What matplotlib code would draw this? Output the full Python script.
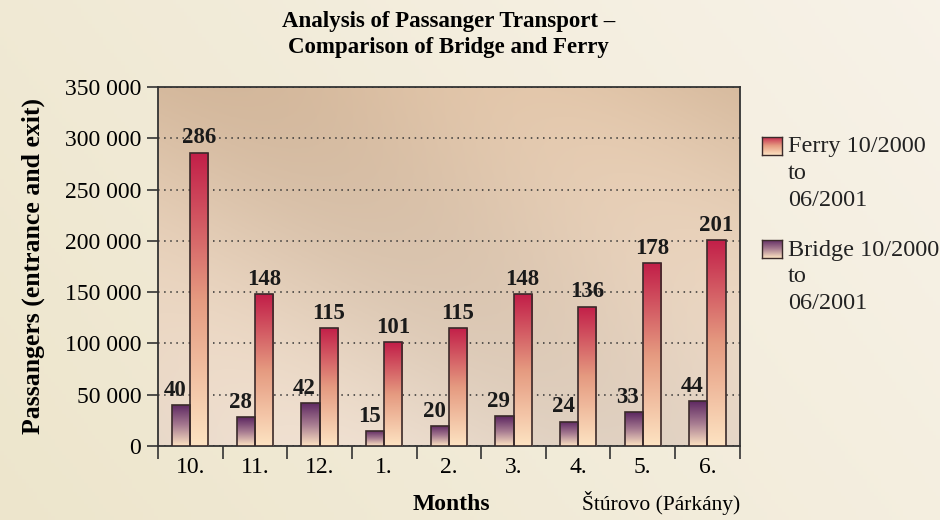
import numpy as np
import matplotlib
matplotlib.use("Agg")
import matplotlib.pyplot as plt
from matplotlib.colors import LinearSegmentedColormap
from matplotlib.patches import Rectangle
from matplotlib.ticker import FuncFormatter, MultipleLocator, FixedLocator

months = ["10.", "11.", "12.", "1.", "2.", "3.", "4.", "5.", "6."]
bridge = [40, 28, 42, 15, 20, 29, 24, 33, 44]          # thousands
ferry = [286, 148, 115, 101, 115, 148, 136, 178, 201]  # thousands
series_names = ["Ferry 10/2000\nto\n06/2001", "Bridge 10/2000\nto\n06/2001"]

plt.rcParams['font.family'] = ['Liberation Serif', 'DejaVu Serif']

fig = plt.figure(figsize=(9.4, 5.2), dpi=100)

# figure background gradient
bg = fig.add_axes([0, 0, 1, 1], zorder=-10)
gx = np.linspace(0, 1, 256)
gy = np.linspace(0, 1, 128)
GX, GY = np.meshgrid(gx, gy)
c1 = np.array([0.93, 0.90, 0.80])
c2 = np.array([0.97, 0.95, 0.91])
t = (0.7 * GX + 0.3 * GY)[..., None]
bg.imshow(c1 * (1 - t) + c2 * t, aspect='auto', extent=[0, 1, 0, 1], origin='lower')
bg.axis('off')

ax = fig.add_axes([0.168, 0.142, 0.619, 0.691])
ax.set_xlim(0, len(months))
ax.set_ylim(0, 350000)

# axes background gradient
top = np.array([0.86, 0.75, 0.64])
bot = np.array([0.91, 0.85, 0.79])
ty = np.linspace(0, 1, 128)[:, None, None]
tx = np.linspace(0, 1, 256)[None, :, None]
img = bot * (1 - ty) + top * ty
img = img + 0.03 * np.sin(tx * 6 + ty * 4)
img = np.clip(img, 0, 1)
ax.imshow(img, aspect='auto', extent=[0, len(months), 0, 350000], origin='lower', zorder=0)

ferry_cmap = LinearSegmentedColormap.from_list('f', ['#fde3c2', '#e59a80', '#c21e48'])
bridge_cmap = LinearSegmentedColormap.from_list('b', ['#fde3c2', '#a67a90', '#5b2560'])

grad = np.linspace(0, 1, 256)[:, None]
w = 0.28

def grad_bar(x0, h, cmap):
    rect = Rectangle((x0, 0), w, h, facecolor='none', edgecolor='#3a2a2a', lw=1.2, zorder=4)
    ax.add_patch(rect)
    im = ax.imshow(grad, cmap=cmap, aspect='auto', extent=[x0, x0 + w, 0, h],
                   origin='lower', zorder=3)
    im.set_clip_path(rect)

for i in range(len(months)):
    c = i + 0.5
    hb = bridge[i] * 1000
    hf = ferry[i] * 1000
    grad_bar(c - w, hb, bridge_cmap)
    grad_bar(c, hf, ferry_cmap)
    ax.text(c - w / 2 - 0.09, hb + 4000, str(bridge[i]), ha='center', va='bottom',
            fontsize=16.5, fontweight='bold', color='#1a1a1a', zorder=6)
    ax.text(c + w / 2, hf + 4000, str(ferry[i]), ha='center', va='bottom',
            fontsize=16.5, fontweight='bold', color='#1a1a1a', zorder=6)

ax.set_xlim(0, len(months))
ax.set_ylim(0, 350000)

ax.yaxis.set_major_locator(MultipleLocator(50000))
ax.yaxis.set_major_formatter(FuncFormatter(lambda v, p: f"{int(v):,}".replace(",", " ")))
ax.grid(axis='y', linestyle=(0, (1, 3)), color='#333333', lw=1.1, zorder=2)
ax.set_axisbelow(False)

ax.xaxis.set_major_locator(FixedLocator(np.arange(len(months) + 1)))
ax.xaxis.set_minor_locator(FixedLocator(np.arange(len(months)) + 0.5))
ax.set_xticklabels([])
ax.set_xticklabels(months, minor=True)
ax.tick_params(axis='x', which='major', length=9, width=1.2, direction='out', color='#333333')
ax.tick_params(axis='x', which='minor', length=0, labelsize=17, pad=8)
ax.tick_params(axis='y', length=8, width=1.2, direction='out', labelsize=17, color='#333333', pad=4)

for s in ax.spines.values():
    s.set_color('#333333')
    s.set_linewidth(1.3)

ax.set_ylabel("Passangers (entrance and exit)", fontsize=18.5, fontweight='bold', labelpad=14)

fig.text(0.48, 0.01, "Months", ha='center', va='bottom', fontsize=17, fontweight='bold')
fig.text(0.787, 0.01, "Štúrovo (Párkány)", ha='right', va='bottom', fontsize=15.5)

fig.text(0.477, 0.978, "Analysis of Passanger Transport –\nComparison of Bridge and Ferry",
         ha='center', va='top', fontsize=16.5, fontweight='bold', linespacing=1.3)

# legend (manual with gradient swatches)
for k, (name, cmap, ytop) in enumerate([(series_names[0], ferry_cmap, 0.737),
                                         (series_names[1], bridge_cmap, 0.538)]):
    sw = fig.add_axes([0.811, ytop - 0.035, 0.0205, 0.035])
    sw.imshow(grad, cmap=cmap, aspect='auto', origin='lower')
    sw.set_xticks([]); sw.set_yticks([])
    for s in sw.spines.values():
        s.set_color('#3a2a2a'); s.set_linewidth(1.0)
    fig.text(0.838, ytop + 0.001, name, ha='left', va='top', fontsize=17.5, linespacing=1.36, color='#222222')

fig.savefig("out.png", dpi=100)
